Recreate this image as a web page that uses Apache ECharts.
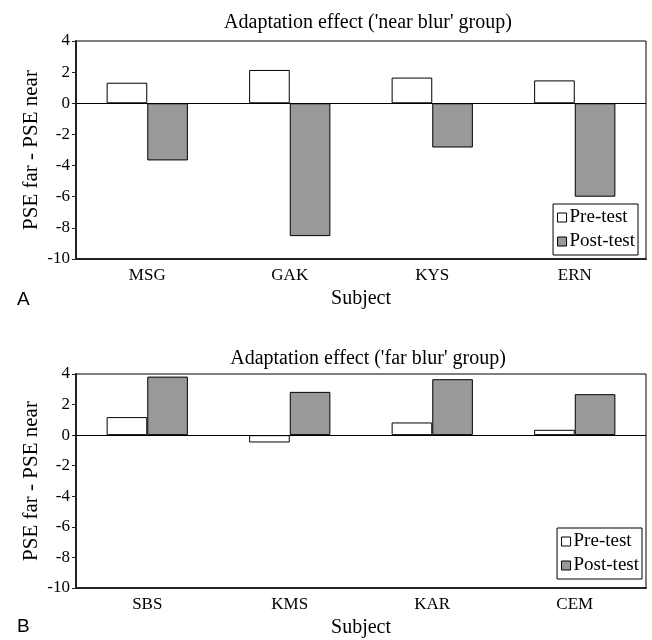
<!DOCTYPE html>
<html>
<head>
<meta charset="utf-8">
<title>Adaptation effect</title>
<script src="https://cdn.jsdelivr.net/npm/echarts@6/dist/echarts.min.js"></script>
<style>
  html, body { margin: 0; padding: 0; background: #fff; }
  #main { width: 652px; height: 640px; }
</style>
</head>
<body>
<div id="main"></div>
<script>
// 数据
const nearSubjects = ['MSG', 'GAK', 'KYS', 'ERN'];
const nearPre = [1.32, 2.14, 1.65, 1.47];
const nearPost = [-3.67, -8.53, -2.84, -6.0];

const farSubjects = ['SBS', 'KMS', 'KAR', 'CEM'];
const farPre = [1.18, -0.48, 0.83, 0.35];
const farPost = [3.83, 2.83, 3.66, 2.68];

const seriesNames = ['Pre-test', 'Post-test'];
const yMin = -10, yMax = 4, yStep = 2;

const serif = 'Liberation Serif';
const myChart = echarts.init(document.getElementById('main'));

function xAxisFor(idx, cats) {
  return {
    type: 'category',
    gridIndex: idx,
    data: cats,
    name: 'Subject',
    nameLocation: 'middle',
    nameGap: 30,
    nameTextStyle: { fontFamily: serif, fontSize: 20, color: '#000' },
    axisLine: { onZero: false, lineStyle: { color: '#222', width: 2 } },
    axisTick: { show: false },
    axisLabel: { fontFamily: serif, fontSize: 17, color: '#000', margin: 8 }
  };
}

function yAxisFor(idx) {
  return {
    type: 'value',
    gridIndex: idx,
    min: yMin,
    max: yMax,
    interval: yStep,
    name: 'PSE far - PSE near',
    nameLocation: 'middle',
    nameRotate: 90,
    nameGap: 34,
    nameMoveOverlap: false,
    nameTextStyle: { fontFamily: serif, fontSize: 21, color: '#000' },
    axisLine: { show: true, lineStyle: { color: '#222', width: 2 } },
    axisTick: { show: true, length: 4, lineStyle: { color: '#222' } },
    axisLabel: { fontFamily: serif, fontSize: 17, color: '#000', margin: 6 },
    splitLine: { show: false }
  };
}

function barSeries(name, idx, data, color, withZero) {
  const s = {
    name: name,
    type: 'bar',
    xAxisIndex: idx,
    yAxisIndex: idx,
    data: data,
    barGap: '0%',
    barCategoryGap: '43%',
    itemStyle: { color: color, borderColor: '#000', borderWidth: 1 },
    animation: false
  };
  if (withZero) {
    // 零线
    s.markLine = {
      silent: true,
      symbol: 'none',
      label: { show: false },
      lineStyle: { color: '#000', width: 1, type: 'solid' },
      data: [{ yAxis: 0 }]
    };
  }
  return s;
}

function legendFor(top, right) {
  return {
    data: seriesNames,
    orient: 'vertical',
    top: top,
    right: right,
    itemWidth: 9,
    itemHeight: 9,
    itemGap: 5,
    padding: [4, 3, 4, 4],
    icon: 'rect',
    borderColor: '#000',
    borderWidth: 1,
    backgroundColor: '#fff',
    selectedMode: false,
    itemStyle: { borderColor: '#000', borderWidth: 1 },
    textStyle: { fontFamily: serif, fontSize: 19, color: '#000', padding: [0, 0, 0, -2] }
  };
}

const option = {
  backgroundColor: '#fff',
  animation: false,
  title: [
    {
      text: "Adaptation effect ('near blur' group)",
      left: 363, top: 8, textAlign: 'center',
      textStyle: { fontFamily: serif, fontSize: 20, fontWeight: 'normal', color: '#000' }
    },
    {
      text: "Adaptation effect ('far blur' group)",
      left: 363, top: 344, textAlign: 'center',
      textStyle: { fontFamily: serif, fontSize: 20, fontWeight: 'normal', color: '#000' }
    }
  ],
  legend: [legendFor(204, 14), legendFor(528, 10)],
  grid: [
    { left: 76, right: 6, top: 41, height: 218, show: true, borderColor: '#000', borderWidth: 1 },
    { left: 76, right: 6, top: 374, height: 214, show: true, borderColor: '#000', borderWidth: 1 }
  ],
  xAxis: [xAxisFor(0, nearSubjects), xAxisFor(1, farSubjects)],
  yAxis: [yAxisFor(0), yAxisFor(1)],
  series: [
    barSeries(seriesNames[0], 0, nearPre, '#ffffff', true),
    barSeries(seriesNames[1], 0, nearPost, '#999999', false),
    barSeries(seriesNames[0], 1, farPre, '#ffffff', true),
    barSeries(seriesNames[1], 1, farPost, '#999999', false)
  ],
  graphic: [
    { type: 'text', left: 17, top: 290, style: { text: 'A', font: '19px "Liberation Sans"', fill: '#000' } },
    { type: 'text', left: 17, top: 617, style: { text: 'B', font: '19px "Liberation Sans"', fill: '#000' } }
  ]
};

option && myChart.setOption(option);
</script>
</body>
</html>
